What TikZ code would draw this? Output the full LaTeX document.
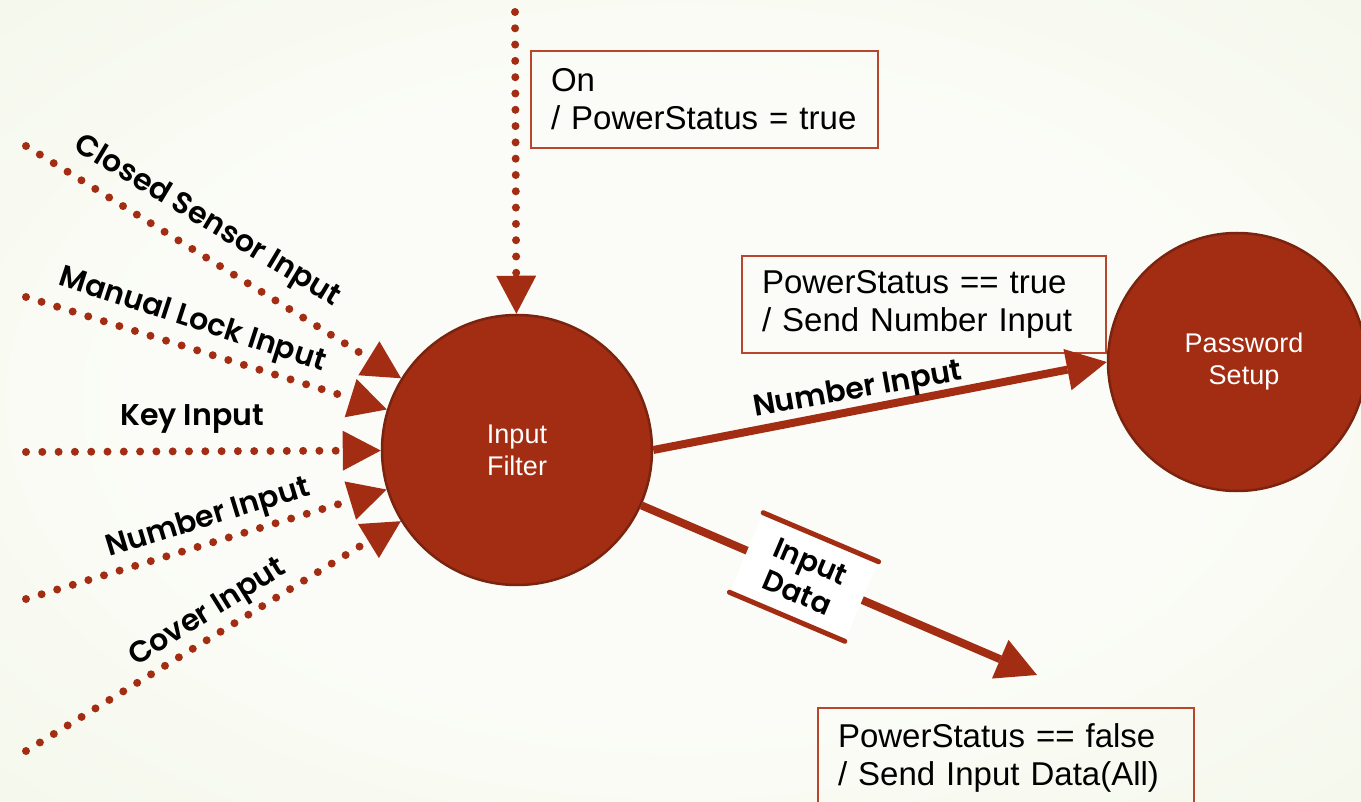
\documentclass[tikz,border=0pt]{standalone}
\usepackage{fontspec}
\setmainfont{Liberation Sans}
\newfontfamily\labfont[BoldFont={Poppins SemiBold}]{Poppins}
\usetikzlibrary{arrows.meta}

\definecolor{rust}{RGB}{163,45,19}
\definecolor{rustdark}{RGB}{122,36,16}
\definecolor{boxline}{RGB}{184,70,44}
\definecolor{bgin}{RGB}{251,252,247}
\definecolor{bgout}{RGB}{231,239,210}
\pgfdeclareradialshading{bgshade}{\pgfpoint{0bp}{0bp}}{color(0bp)=(bgin); color(20bp)=(bgin); color(71bp)=(bgout)}

\tikzset{
  proc/.style={circle, fill=rust, draw=rustdark, line width=2.5pt, text=white, align=center, inner sep=0, font=\fontsize{27}{32}\selectfont},
  cond/.style={draw=boxline, line width=2pt, align=left, anchor=north west, inner xsep=20pt, minimum height=97pt, font=\fontsize{33}{38}\selectfont},
  lab/.style={font=\labfont\bfseries\fontsize{30}{34}\selectfont},
  dots/.style={draw=rust, line width=8pt, line cap=round, dash pattern=on 0pt off 16.3pt, -{Triangle[length=38pt, width=40pt, line width=0pt]}},
  flow/.style={draw=rust, line width=8pt, -{Triangle[length=40pt, width=42pt, line width=0pt]}},
  store/.style={fill=white, align=center, minimum width=125pt, minimum height=86pt, inner sep=0, font=\labfont\bfseries\fontsize{29}{34}\selectfont}
}
\newcommand\flowlabel[4]{\node [lab, rotate=#3] (#1) at #2 {#4};}

\begin{document}
\begin{tikzpicture}[x=1pt, y=-1pt]
     \useasboundingbox (0, 0) rectangle (1361, 802);
     \clip (0, 0) rectangle (1361, 802);
     \shade [shading=bgshade] (0, 0) rectangle (1361, 802);

     \node [proc, minimum size=270pt] (filt) at (517, 450) {Input\\Filter};
     \node [proc, minimum size=258pt] (pwd) at (1237, 362) {\hspace*{14pt}Password\\\hspace*{14pt}Setup};

     \node [cond, text width=307pt] (oncond) at (530, 50) {On\\/ PowerStatus = true};
     \node [cond, text width=324pt] (truecond) at (741, 255) {PowerStatus == true\\/ Send Number Input};
     \node [cond, text width=336pt, minimum height=100pt] (falsecond) at (817, 707) {PowerStatus == false\\/ Send Input Data(All)};

     % incoming events
     \coordinate (power) at (515, 12);
     \coordinate (closed) at (26, 146);
     \coordinate (manual) at (26, 297);
     \coordinate (key) at (26, 452);
     \coordinate (number) at (26, 599);
     \coordinate (cover) at (26, 751);

     \draw [dots] (power) -- (filt);
     \draw [dots] (closed) -- (filt);
     \draw [dots] (manual) -- (filt);
     \draw [dots] (key) -- (filt);
     \draw [dots] (number) -- (filt);
     \draw [dots] (cover) -- (filt);

     \flowlabel{closedlab}{(207, 222)}{-31}{Closed Sensor Input}
     \flowlabel{manuallab}{(192, 321)}{-18}{Manual Lock Input}
     \flowlabel{keylab}{(192, 419)}{0}{Key Input}
     \flowlabel{numberlab}{(208, 519)}{17}{Number Input}
     \flowlabel{coverlab}{(208, 614)}{32}{Cover Input}

     % outgoing flows
     \coordinate (datatip) at (1037, 675);
     \draw [flow] (filt.east) -- (pwd.west);
     \draw [flow] (filt.-24) -- (datatip);

     \flowlabel{numout}{(858, 391)}{10}{Number Input}

     \node [store, rotate=-23] (indata) at (804, 577) {Input\\Data};
     \draw [rust, line width=5pt, line cap=round] (indata.north west) -- (indata.north east);
     \draw [rust, line width=5pt, line cap=round] (indata.south west) -- (indata.south east);
\end{tikzpicture}
\end{document}
